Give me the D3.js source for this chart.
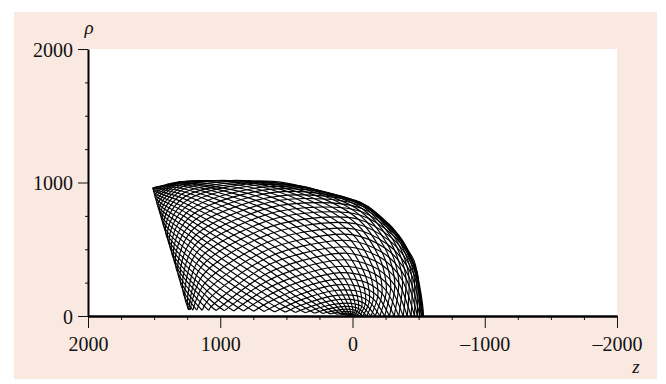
<!DOCTYPE html>
<html>
<head>
<meta charset="utf-8">
<script src="https://cdn.jsdelivr.net/npm/d3@7"></script>
<style>
body { margin: 0; background: #fff; }
text { font-family: "Liberation Serif", "Times New Roman", serif; fill: #111; }
</style>
</head>
<body>
<svg id="chart"></svg>
<script>
var zTicks = [2000, 1000, 0, -1000, -2000];
var rhoTicks = [0, 1000, 2000];
var minorTicks = [-1750, -1500, -1250, -750, -500, -250, 250, 500, 750, 1250, 1500, 1750];
var rhoMinor = [250, 500, 750, 1250, 1500, 1750];

// the orbit, one entry per loop, points as [z, rho]
var axisCross = [-536, -532, -522, -509, -491, -469, -443, -414, -383, -350, -315, -279,
	-243, -207, -172, -139, -108, -79, -54, -32, -13, 0, 10, 14];
var bottomCross = [[1239,45],[1228,45],[1207,44],[1177,44],[1137,43],[1088,42],[1031,41],[968,40],
	[898,38],[824,37],[747,35],[668,33],[587,31],[508,29],[431,26],[357,24],
	[287,21],[224,19],[167,16],[118,13],[78,10],[48,7],[27,4],[16,1]];
var leftTouch = [[1249,75],[1267,135],[1284,194],[1302,253],[1319,310],[1336,367],[1352,422],[1368,476],
	[1384,528],[1398,577],[1413,625],[1426,670],[1439,712],[1450,752],[1461,788],[1471,821],
	[1480,851],[1488,878],[1495,900],[1500,920],[1505,935],[1508,947],[1511,955],[1512,959]];
var topTouch = [[-530,86],[-501,253],[-464,418],[-379,565],[-273,691],[-151,796],[-11,869],[137,912],
	[281,948],[421,979],[556,1005],[684,1010],[806,1013],[919,1015],[1024,1015],[1120,1014],
	[1207,1010],[1283,1006],[1348,997],[1402,984],[1445,974],[1478,967],[1500,962],[1511,959]];

// on the way up: from the left edge over to the axis
var up1 = [[1162,421],[1177,477],[1191,531],[1206,584],[1219,635],[1232,683],[1244,729],[1256,772],
	[1267,812],[1276,849],[1285,882],[1293,912],[1300,938],[1306,959],[1310,977],[1314,990],
	[1316,999],[1317,1003],[1317,1003],[1316,999],[1314,990],[1310,977],[1306,959],[1300,938]];
var up2 = [[707,690],[713,739],[719,784],[724,827],[729,866],[733,901],[737,932],[740,957],
	[742,979],[744,995],[745,1005],[746,1011],[746,1011],[745,1005],[744,995],[742,979],
	[740,957],[737,932],[733,901],[729,866],[724,827],[719,784],[713,739],[707,690]];
var up3 = [[360,770],[358,811],[357,847],[355,880],[354,907],[353,930],[352,947],[352,959],
	[351,965],[351,965],[352,959],[352,947],[353,930],[354,907],[355,880],[357,847],
	[358,811],[360,770],[362,726],[364,678],[366,629],[369,577],[371,525],[373,471]];
var up4 = [[-55,756],[-64,783],[-71,805],[-77,822],[-81,833],[-83,839],[-83,839],[-81,833],
	[-77,822],[-71,805],[-64,783],[-55,756],[-44,725],[-32,689],[-19,650],[-5,608],
	[10,564],[26,517],[42,470],[58,421],[75,373],[91,325],[106,278],[121,233]];
var up5 = [[-309,603],[-318,616],[-324,625],[-328,630],[-328,630],[-324,625],[-318,616],[-309,603],
	[-297,585],[-282,563],[-264,538],[-245,510],[-223,478],[-200,445],[-176,410],[-151,373],
	[-125,335],[-99,298],[-74,261],[-49,224],[-25,189],[-2,156],[19,125],[39,97]];
var up6 = [[-410,480],[-417,487],[-421,491],[-421,491],[-417,487],[-410,480],[-399,469],[-385,455],
	[-367,437],[-347,417],[-324,394],[-299,369],[-272,342],[-243,314],[-214,285],[-184,255],
	[-155,225],[-125,195],[-97,167],[-69,140],[-43,114],[-20,90],[2,69],[20,50]];
var up7 = [[-482,331],[-487,334],[-487,334],[-482,331],[-474,326],[-462,318],[-446,308],[-426,296],
	[-404,282],[-378,266],[-350,248],[-320,229],[-289,210],[-256,189],[-223,169],[-191,148],
	[-158,128],[-127,108],[-97,90],[-70,72],[-45,56],[-22,42],[-3,30],[13,20]];
// on the way back: from the axis over to the left edge
var down1 = [[-474,326],[-462,318],[-446,308],[-426,296],[-404,282],[-378,266],[-350,248],[-320,229],
	[-289,210],[-256,189],[-223,169],[-191,148],[-158,128],[-127,108],[-97,90],[-70,72],
	[-45,56],[-22,42],[-3,30],[13,20],[25,13],[33,8],[33,8],[25,13]];
var down2 = [[-399,469],[-385,455],[-367,437],[-347,417],[-324,394],[-299,369],[-272,342],[-243,314],
	[-214,285],[-184,255],[-155,225],[-125,195],[-97,167],[-69,140],[-43,114],[-20,90],
	[2,69],[20,50],[36,34],[49,22],[58,12],[58,12],[49,22],[36,34]];
var down3 = [[-297,585],[-282,563],[-264,538],[-245,510],[-223,478],[-200,445],[-176,410],[-151,373],
	[-125,335],[-99,298],[-74,261],[-49,224],[-25,189],[-2,156],[19,125],[39,97],
	[56,72],[71,50],[83,32],[93,17],[93,17],[83,32],[71,50],[56,72]];
var down4 = [[-44,725],[-32,689],[-19,650],[-5,608],[10,564],[26,517],[42,470],[58,421],
	[75,373],[91,325],[106,278],[121,233],[136,191],[149,151],[161,115],[173,82],
	[182,53],[191,28],[191,28],[182,53],[173,82],[161,115],[149,151],[136,191]];
var down5 = [[362,726],[364,678],[366,629],[369,577],[371,525],[373,471],[376,417],[378,364],
	[380,312],[383,261],[385,212],[387,165],[389,121],[391,80],[392,43],[392,43],
	[391,80],[389,121],[387,165],[385,212],[383,261],[380,312],[378,364],[376,417]];
var down6 = [[701,640],[695,587],[688,533],[682,478],[675,422],[668,367],[661,311],[655,257],
	[648,204],[642,152],[636,102],[630,55],[630,55],[636,102],[642,152],[648,204],
	[655,257],[661,311],[668,367],[675,422],[682,478],[688,533],[695,587],[701,640]];
var down7 = [[1147,364],[1131,306],[1116,247],[1100,188],[1084,129],[1068,71],[1068,71],[1084,129],
	[1100,188],[1116,247],[1131,306],[1147,364],[1162,421],[1177,477],[1191,531],[1206,584],
	[1219,635],[1232,683],[1244,729],[1256,772],[1267,812],[1276,849],[1285,882],[1293,912]];
// how many of those points come before the top touch / before the bottom crossing
var upBeforeTop = [7,7,6,5,4,4,3,3,3,2,2,2,1,1,1,1,1,1,0,0,0,0,0,0];
var downBeforeBottom = [7,7,7,7,7,7,6,6,6,6,6,6,5,5,5,4,4,4,3,3,2,1,0,0];

var W = 666, H = 384;
var plot = { left: 88, right: 617, top: 49, bottom: 316 };

var svg = d3.select('#chart')
	.attr('width', W)
	.attr('height', H);

svg.append('rect')
	.attr('x', 14).attr('y', 12)
	.attr('width', 643).attr('height', 367)
	.attr('fill', '#fae9e1');

svg.append('rect')
	.attr('x', plot.left).attr('y', plot.top)
	.attr('width', plot.right - plot.left).attr('height', plot.bottom - plot.top)
	.attr('fill', '#fff');

var x = d3.scaleLinear().domain([2000, -2000]).range([plot.left, plot.right]);
var y = d3.scaleLinear().domain([0, 2000]).range([plot.bottom, plot.top]);

// each loop is cut at its two axis-side corners: a long stroke bottom -> left -> top -> axis,
// and a short arch axis -> bottom
var strokes = [];
axisCross.forEach(function(z, i) {
	var up = [up1[i], up2[i], up3[i], up4[i], up5[i], up6[i], up7[i]];
	var down = [down1[i], down2[i], down3[i], down4[i], down5[i], down6[i], down7[i]];
	var nu = upBeforeTop[i], nd = downBeforeBottom[i];
	var axisPt = [z, 0];
	strokes.push([bottomCross[i]].concat(down.slice(nd), [leftTouch[i]], up.slice(0, nu),
		[topTouch[i]], up.slice(nu), [axisPt]));
	strokes.push([axisPt].concat(down.slice(0, nd), [bottomCross[i]]));
});

var line = d3.line()
	.x(function(d) { return x(d[0]); })
	.y(function(d) { return y(d[1]); })
	.curve(d3.curveCatmullRom.alpha(0.5));

svg.append('g')
	.selectAll('path')
	.data(strokes)
	.enter().append('path')
	.attr('d', line)
	.attr('fill', 'none')
	.attr('stroke', '#000')
	.attr('stroke-width', 1.15)
	.attr('stroke-linejoin', 'round');

var fmt = function(d) { return d < 0 ? '\u2013' + Math.abs(d) : String(d); };

// minor ticks
svg.append('g')
	.attr('transform', 'translate(0,' + plot.bottom + ')')
	.call(d3.axisBottom(x).tickValues(minorTicks).tickSize(4).tickSizeOuter(0).tickFormat(''))
	.call(function(g) { g.select('.domain').remove(); });
svg.append('g')
	.attr('transform', 'translate(' + plot.left + ',0)')
	.call(d3.axisLeft(y).tickValues(rhoMinor).tickSize(3).tickSizeOuter(0).tickFormat(''))
	.call(function(g) { g.select('.domain').remove(); });

var xAxis = svg.append('g')
	.attr('transform', 'translate(0,' + plot.bottom + ')')
	.call(d3.axisBottom(x).tickValues(zTicks).tickSize(12).tickSizeOuter(0).tickFormat(fmt));
xAxis.select('.domain').attr('stroke-width', 2.5);
xAxis.selectAll('text')
	.attr('y', 35).attr('dy', 0)
	.style('font-size', '20px');

var yAxis = svg.append('g')
	.attr('transform', 'translate(' + plot.left + ',0)')
	.call(d3.axisLeft(y).tickValues(rhoTicks).tickSize(10).tickSizeOuter(0).tickFormat(fmt));
yAxis.select('.domain').attr('stroke-width', 2);
yAxis.selectAll('text')
	.attr('x', -15).attr('dy', '0.35em')
	.style('font-size', '20px');

svg.selectAll('.tick line').attr('stroke', '#111');

svg.append('text')
	.attr('x', 89).attr('y', 34)
	.attr('text-anchor', 'middle')
	.style('font-size', '19px').style('font-style', 'italic')
	.text('\u03c1');

svg.append('text')
	.attr('x', 636).attr('y', 373)
	.attr('text-anchor', 'middle')
	.style('font-size', '19px').style('font-style', 'italic')
	.text('z');
</script>
</body>
</html>
